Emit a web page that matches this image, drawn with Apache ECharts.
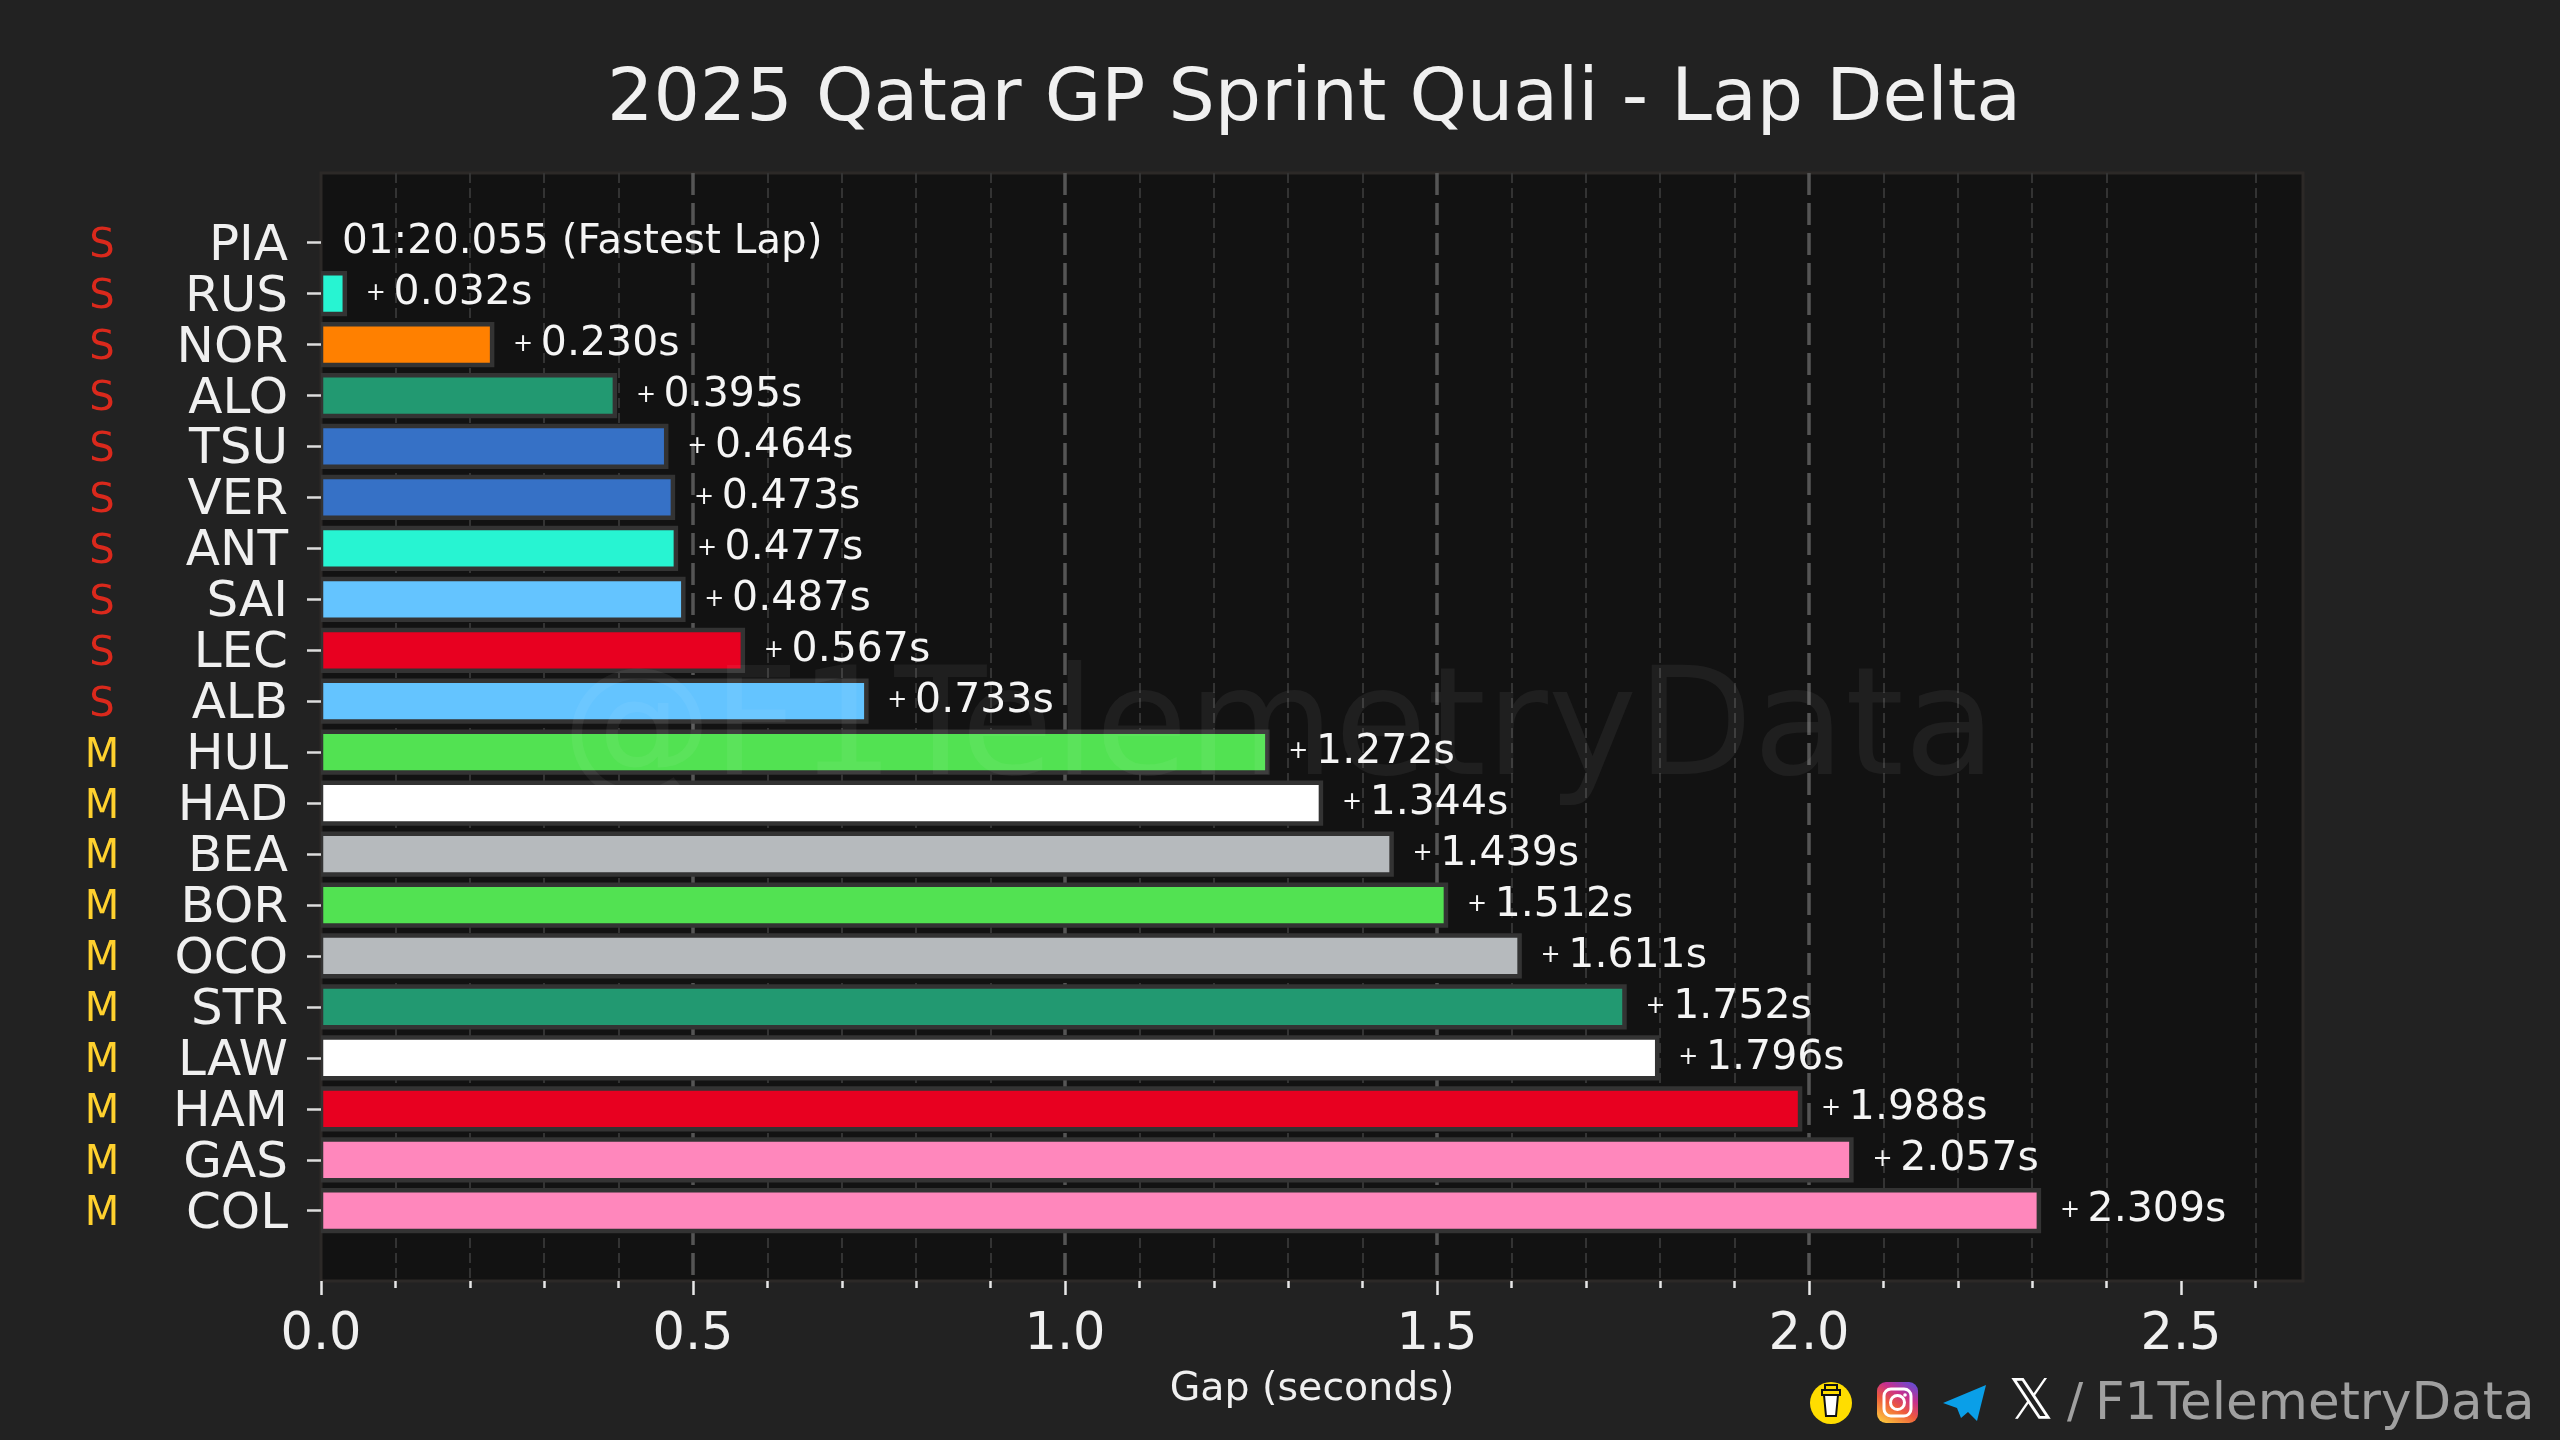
<!DOCTYPE html>
<html>
<head>
<meta charset="utf-8">
<style>html,body{margin:0;padding:0;background:#222222}#c{width:2560px;height:1440px}</style>
<script src="https://cdn.jsdelivr.net/npm/echarts@6/dist/echarts.min.js"></script>
</head>
<body>
<div id="c"></div>
<script>
const drivers = ['PIA','RUS','NOR','ALO','TSU','VER','ANT','SAI','LEC','ALB','HUL','HAD','BEA','BOR','OCO','STR','LAW','HAM','GAS','COL'];
const gaps = [0,0.032,0.230,0.395,0.464,0.473,0.477,0.487,0.567,0.733,1.272,1.344,1.439,1.512,1.611,1.752,1.796,1.988,2.057,2.309];
const compounds = ['S','S','S','S','S','S','S','S','S','S','M','M','M','M','M','M','M','M','M','M'];
const teamColors = ['#FF8000','#27F4D2','#FF8000','#229971','#3671C6','#3671C6','#27F4D2','#64C4FF','#E80020','#64C4FF','#52E252','#FFFFFF','#B6BABD','#52E252','#B6BABD','#229971','#FFFFFF','#E80020','#FF87BC','#FF87BC'];
const xTicks = [0,0.5,1,1.5,2,2.5];
const xMax = 2.664;
const fastestLap = '01:20.055 (Fastest Lap)';
const titleText = '2025 Qatar GP Sprint Quali - Lap Delta';

const FONT = 'DejaVu Sans';
const G = {left:321, right:2303, top:173, bottom:1281};
const chart = echarts.init(document.getElementById('c'), null, {renderer:'canvas', width:2560, height:1440});

const icons = [
  {type:'circle', shape:{cx:1831,cy:1403,r:21}, style:{fill:'#FFDD00'}, z:20},
  {type:'polygon', shape:{points:[[1824,1395],[1838,1395],[1836,1416],[1826,1416]]}, style:{fill:'#ffffff',stroke:'#111',lineWidth:2}, z:21},
  {type:'rect', shape:{x:1822,y:1390,width:18,height:5}, style:{fill:'#FFDD00',stroke:'#111',lineWidth:2}, z:21},
  {type:'rect', shape:{x:1825,y:1385,width:12,height:5}, style:{fill:'#FFDD00',stroke:'#111',lineWidth:2}, z:21},
  {type:'rect', shape:{x:1877,y:1382,width:41,height:41,r:9}, style:{fill:new echarts.graphic.LinearGradient(0.2,1,0.8,0,[{offset:0,color:'#FCC13C'},{offset:0.4,color:'#EE5A3C'},{offset:0.7,color:'#C72F8E'},{offset:1,color:'#6A4BD0'}])}, z:20},
  {type:'rect', shape:{x:1884,y:1389,width:27,height:27,r:7}, style:{fill:'none',stroke:'#ffffff',lineWidth:3}, z:21},
  {type:'circle', shape:{cx:1897.5,cy:1402.5,r:7}, style:{fill:'none',stroke:'#ffffff',lineWidth:3}, z:21},
  {type:'circle', shape:{cx:1905,cy:1395,r:1.8}, style:{fill:'#ffffff'}, z:21},
  {type:'polygon', shape:{points:[[1986,1385],[1943,1403],[1957,1408],[1961,1418],[1968,1412],[1977,1421]]}, style:{fill:'#0A9FE8'}, z:20},
  {type:'text', x:2031, y:1403, style:{text:'\uD835\uDD4F', fontFamily:FONT, fontSize:56, fill:'#ffffff', align:'center', verticalAlign:'middle'}, z:20},
  {type:'text', x:2075, y:1405, style:{text:'/', fontFamily:FONT, fontSize:48, fill:'#a0a0a0', align:'center', verticalAlign:'middle'}, z:20},
  {type:'text', x:2095, y:1406, style:{text:'F1TelemetryData', fontFamily:FONT, fontSize:51.5, fill:'#a0a0a0', align:'left', verticalAlign:'middle'}, z:20},
  {type:'text', x:1279, y:735, style:{text:'@F1TelemetryData', fontFamily:FONT, fontSize:150.5, fill:'rgba(255,255,255,0.055)', align:'center', verticalAlign:'middle'}, z:30}
];

function renderBar(params, api) {
  const i = params.dataIndex;
  const v = api.value(0);
  const p0 = api.coord([0, i]);
  const p1 = api.coord([v, i]);
  const h = api.size([0, 1])[1] * 0.8;
  const children = [];
  if (v > 0) {
    children.push({type:'rect', shape:{x:p0[0], y:p0[1]-h/2, width:p1[0]-p0[0], height:h},
      style:{fill:teamColors[i], stroke:'#333333', lineWidth:4.5}});
  }
  const text = v > 0 ? `{p|+ }{v|${v.toFixed(3)}s}` : `{v|${fastestLap}}`;
  children.push({type:'text', x:p1[0]+21, y:p1[1], style:{text, align:'left', verticalAlign:'middle',
    rich:{p:{fill:'#f5f5f5', fontFamily:FONT, fontSize:24}, v:{fill:'#f5f5f5', fontFamily:FONT, fontSize:v>0?41:40.5}}}});
  return {type:'group', children};
}

chart.setOption({
  backgroundColor:'#222222',
  animation:false,
  textStyle:{fontFamily:FONT},
  title:{text:titleText, left:1309, top:96, textAlign:'center', textVerticalAlign:'middle',
    textStyle:{color:'#f0f0f0', fontFamily:FONT, fontSize:73, fontWeight:'normal'}},
  grid:[
    {left:G.left, top:G.top, width:G.right-G.left, height:G.bottom-G.top, show:true, backgroundColor:'#121212', borderColor:'#2c2927', borderWidth:3, containLabel:false},
    {left:G.left, top:217.2, width:G.right-G.left, height:1019, containLabel:false}
  ],
  xAxis:[
    {type:'value', gridIndex:0, min:0, max:xMax, interval:0.5, position:'bottom', offset:1,
     name:'Gap (seconds)', nameLocation:'middle', nameGap:88,
     nameTextStyle:{color:'#f0f0f0', fontFamily:FONT, fontSize:39.5},
     axisLine:{show:false},
     axisTick:{show:true, length:14, customValues:xTicks, lineStyle:{color:'#e8e8e8', width:2.5}},
     minorTick:{show:true, splitNumber:5, length:7, lineStyle:{color:'#e8e8e8', width:2.5}},
     axisLabel:{show:true, color:'#f0f0f0', fontFamily:FONT, fontSize:51, margin:28, customValues:xTicks, formatter:v=>v.toFixed(1)},
     splitLine:{show:true, showMaxLine:false, showMinLine:false, lineStyle:{color:'#555555', width:3.5, type:[22,8]}},
     minorSplitLine:{show:true, lineStyle:{color:'#333333', width:2, type:[10,5]}}
    },
    {type:'value', gridIndex:1, min:0, max:xMax, show:false, splitLine:{show:false}}
  ],
  yAxis:[
    {type:'value', gridIndex:0, min:0, max:1, show:false, splitLine:{show:false}},
    {type:'category', gridIndex:1, data:drivers, inverse:true,
     axisLine:{show:false},
     axisTick:{show:true, alignWithLabel:true, length:14, lineStyle:{color:'#dddddd', width:2.5}},
     splitLine:{show:false},
     axisLabel:{show:true, interval:0, margin:33, align:'right', padding:[8,0,0,0],
       formatter:(name,i)=>`{${compounds[i]}|${compounds[i]}}{n|${name}}`,
       rich:{
         S:{color:'#DA291C', fontFamily:FONT, fontSize:40, width:100, align:'center'},
         M:{color:'#FFD12E', fontFamily:FONT, fontSize:40, width:100, align:'center'},
         n:{color:'#f0f0f0', fontFamily:FONT, fontSize:50, width:136, align:'right'}
       }}
    }
  ],
  series:[{
    type:'custom', name:'Gap', xAxisIndex:1, yAxisIndex:1, clip:true, z:5,
    renderItem:renderBar,
    encode:{x:0, y:1},
    data:gaps.map((v,i)=>[v,i])
  }],
  graphic:{elements:icons}
});
</script>
</body>
</html>
